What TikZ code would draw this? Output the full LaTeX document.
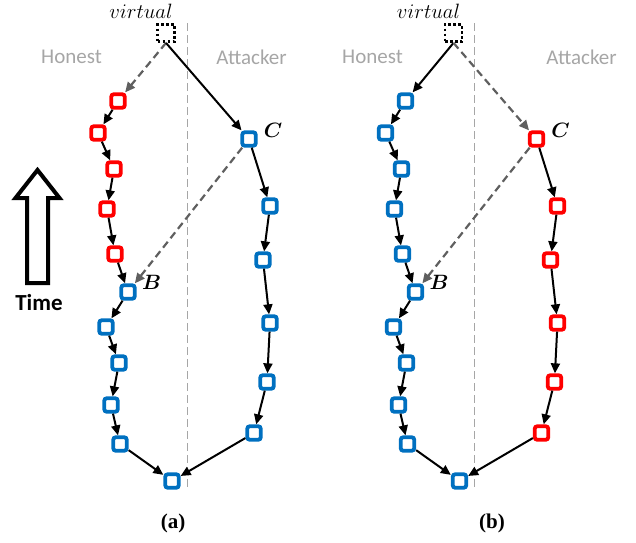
\documentclass[tikz,border=0pt]{standalone}
\usepackage{fontspec}
\usepackage{bm}
\newfontfamily\labelfont{Carlito}
\newfontfamily\capfont{Liberation Serif}
\usetikzlibrary{arrows.meta}

\definecolor{hblue}{HTML}{0070C0}
\definecolor{ared}{HTML}{FF0000}
\definecolor{dgray}{HTML}{5F5F5F}
\definecolor{lgray}{HTML}{A6A6A6}

\tikzset{
  blk/.style={draw, rounded corners=2.5pt, line width=3.8pt, minimum size=13.5pt,
    inner sep=0pt, fill=white},
  bluebox/.style={blk, draw=hblue},
  redbox/.style={blk, draw=ared},
  virt/.style={draw=black, line width=2.8pt, dash pattern=on 2.8pt off 2.2pt,
    minimum size=17pt, inner sep=0pt},
  link/.style={line width=2pt, draw=black, -{Triangle[length=10pt,width=9pt]}},
  fork/.style={line width=2.2pt, draw=dgray, dash pattern=on 7.5pt off 4.5pt,
    -{Triangle[length=10pt,width=9pt,fill=dgray]}},
  sepline/.style={draw=lgray, line width=1pt, dash pattern=on 8pt off 4pt},
  side/.style={font=\labelfont\fontsize{21}{24}\selectfont, text=lgray},
  blocklabel/.style={font=\fontsize{20.74}{22}\selectfont},
  panelcap/.style={font=\capfont\bfseries\fontsize{21}{23}\selectfont},
}

% One panel of the two-chain picture.
% #1 name prefix, #2 horizontal shift, #3 style of the upper honest blocks,
% #4 style of the attacker blocks, #5 link to the honest chain, #6 link to C
\newcommand{\chainpanel}[6]{%
\begin{scope}[xshift=#2]
  \coordinate (#1top) at (187,23);
  \coordinate (#1bot) at (187,487);
  \draw[sepline] (#1top) -- (#1bot);

  \node[virt] (#1v) at (166,33) {};

  \node[#3] (#1h1) at (118,101) {};
  \node[#3] (#1h2) at (98,133) {};
  \node[#3] (#1h3) at (114,169) {};
  \node[#3] (#1h4) at (107,209) {};
  \node[#3] (#1h5) at (115,254) {};
  \node[bluebox] (#1B) at (128,292) {};
  \node[bluebox] (#1h6) at (106,327) {};
  \node[bluebox] (#1h7) at (119,363) {};
  \node[bluebox] (#1h8) at (111,405) {};
  \node[bluebox] (#1h9) at (120,444) {};
  \node[bluebox] (#1g) at (172,481) {};

  \node[#4] (#1C) at (249,139) {};
  \node[#4] (#1a1) at (270,206) {};
  \node[#4] (#1a2) at (263,260) {};
  \node[#4] (#1a3) at (270,323) {};
  \node[#4] (#1a4) at (267,382) {};
  \node[#4] (#1a5) at (254,433) {};

  \draw[#5] (#1v.south) -- (#1h1);
  \draw[#6] (#1v.south) -- (#1C);
  \draw[fork] (#1C) -- (#1B);

  \draw[link] (#1h1) -- (#1h2);
  \draw[link] (#1h2) -- (#1h3);
  \draw[link] (#1h3) -- (#1h4);
  \draw[link] (#1h4) -- (#1h5);
  \draw[link] (#1h5) -- (#1B);
  \draw[link] (#1B) -- (#1h6);
  \draw[link] (#1h6) -- (#1h7);
  \draw[link] (#1h7) -- (#1h8);
  \draw[link] (#1h8) -- (#1h9);
  \draw[link] (#1h9) -- (#1g);

  \draw[link] (#1C) -- (#1a1);
  \draw[link] (#1a1) -- (#1a2);
  \draw[link] (#1a2) -- (#1a3);
  \draw[link] (#1a3) -- (#1a4);
  \draw[link] (#1a4) -- (#1a5);
  \draw[link] (#1a5) -- (#1g);

  \node[blocklabel] (#1vl) at (141,11) {$virtual$};
  \node[blocklabel] (#1Cl) at (273,130) {$\bm{C}$};
  \node[blocklabel] (#1Bl) at (151.5,282) {$\bm{B}$};
\end{scope}}

\begin{document}
\begin{tikzpicture}[x=1pt, y=-1pt]
  \useasboundingbox (0,0) rectangle (636,542);

  \chainpanel{a}{0pt}{redbox}{bluebox}{fork}{link}
  \chainpanel{b}{287.5pt}{bluebox}{redbox}{link}{fork}

  \node[side] (honA) at (71.5,57) {Honest};
  \node[side] (attA) at (251.5,57) {Attacker};
  \node[side] (honB) at (372.5,57) {Honest};
  \node[side] (attB) at (581.5,57) {Attacker};

  \node[panelcap] (capA) at (173,523) {(a)};
  \node[panelcap] (capB) at (492,523) {(b)};

  % time axis
  \draw[line width=4pt, fill=white, line join=miter]
    (27,283) -- (27,198) -- (15.5,198) -- (37.5,170) -- (59.5,198)
    -- (48,198) -- (48,283) -- cycle;
  \node[font=\labelfont\bfseries\fontsize{23}{26}\selectfont] (time) at (39,303) {Time};
\end{tikzpicture}
\end{document}
